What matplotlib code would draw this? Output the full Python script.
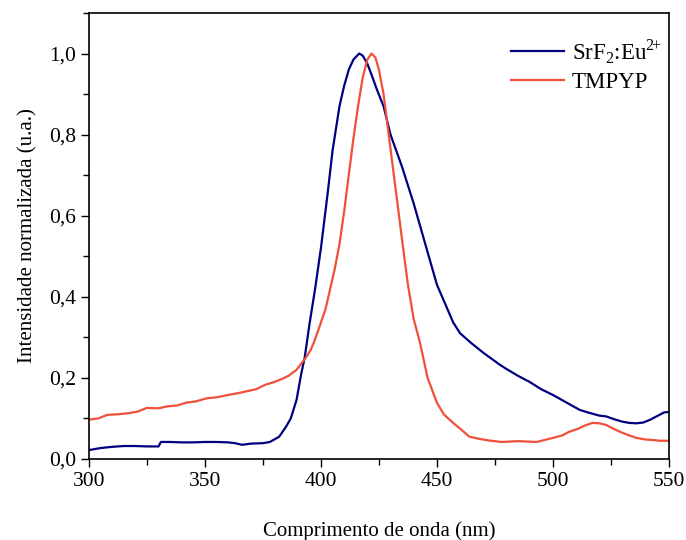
import matplotlib
matplotlib.use("Agg")
import matplotlib.pyplot as plt
from matplotlib.ticker import MultipleLocator, FuncFormatter

# SrF2:Eu2+ emission
srf_x = [300, 305, 310, 315, 320, 325, 330, 331, 335, 340, 345, 350, 355, 360, 363, 366,
         370, 375, 378, 382, 385, 387, 389.5, 391.5, 393, 395, 397.5, 400, 403, 405, 408,
         410, 412, 414, 416.5, 418, 420, 422, 424, 427, 430, 435, 440, 445, 450, 457, 460,
         465, 470, 477, 480, 485, 490, 495, 500, 505, 511.6, 515, 520, 523, 527, 530, 533,
         536, 539, 542, 545, 548, 550]
srf_y = [0.022, 0.027, 0.030, 0.032, 0.032, 0.031, 0.031, 0.042, 0.042, 0.041, 0.041, 0.042,
         0.042, 0.041, 0.039, 0.035, 0.038, 0.039, 0.042, 0.055, 0.08, 0.10, 0.146, 0.21,
         0.25, 0.33, 0.42, 0.52, 0.66, 0.76, 0.87, 0.92, 0.96, 0.985, 1.0, 0.995, 0.975,
         0.945, 0.913, 0.87, 0.80, 0.72, 0.63, 0.53, 0.43, 0.337, 0.31, 0.285, 0.262, 0.233,
         0.222, 0.205, 0.19, 0.172, 0.158, 0.142, 0.121, 0.115, 0.107, 0.105, 0.097, 0.092,
         0.089, 0.088, 0.09, 0.097, 0.106, 0.115, 0.116]

# TMPYP
tmp_x = [300, 304, 308, 312, 317, 321, 325, 330, 334, 338, 342, 346, 351, 355, 360, 364,
         368, 372, 376, 380, 383, 386, 389.5, 391.5, 393.5, 395.5, 397, 399, 402, 404, 406,
         408, 410, 412, 414, 416, 418, 420, 421.8, 423.5, 425, 427, 429, 431, 433, 435,
         437.5, 440, 442.7, 446, 450, 453, 457, 460, 464, 468, 472, 478, 485, 493, 500, 504,
         507, 511, 514, 517, 520, 523, 526, 529, 532, 536, 540, 543, 546, 550]
tmp_y = [0.097, 0.100, 0.109, 0.110, 0.113, 0.117, 0.126, 0.125, 0.130, 0.132, 0.139, 0.142,
         0.150, 0.152, 0.158, 0.162, 0.167, 0.172, 0.183, 0.190, 0.197, 0.205, 0.220, 0.235,
         0.250, 0.268, 0.288, 0.320, 0.370, 0.420, 0.470, 0.530, 0.610, 0.700, 0.790, 0.870,
         0.940, 0.985, 1.0, 0.99, 0.96, 0.90, 0.81, 0.72, 0.63, 0.54, 0.43, 0.345, 0.287,
         0.20, 0.139, 0.11, 0.089, 0.075, 0.055, 0.05, 0.046, 0.042, 0.044, 0.042, 0.052,
         0.058, 0.067, 0.075, 0.083, 0.089, 0.088, 0.084, 0.075, 0.067, 0.06, 0.052, 0.048,
         0.047, 0.045, 0.045]

plt.rcParams['font.family'] = 'Liberation Serif'
plt.rcParams['mathtext.fontset'] = 'custom'
plt.rcParams['mathtext.rm'] = 'Liberation Serif'

fig = plt.figure(figsize=(6.86, 5.4), dpi=100)
ax = fig.add_axes([0.1297, 0.15, 0.8453, 0.826])

ax.plot(srf_x, srf_y, color='#000080', lw=1.6,
        label=r'SrF$_\mathregular{2}$:Eu$^{\mathregular{2}\!\mathregular{+}}$')
ax.plot(tmp_x, tmp_y, color='#f0503a', lw=1.6, label='TMPYP')

ax.set_xlim(300, 550)
ax.set_ylim(0, 1.1)
ax.xaxis.set_major_locator(MultipleLocator(50))
ax.xaxis.set_minor_locator(MultipleLocator(25))
ax.yaxis.set_major_locator(MultipleLocator(0.2))
ax.yaxis.set_minor_locator(MultipleLocator(0.1))
ax.yaxis.set_major_formatter(FuncFormatter(lambda v, p: f"{v:.1f}".replace('.', ',')))
ax.tick_params(which='both', direction='out', top=False, right=False, labelsize=15.5)
ax.tick_params(which='major', length=6, width=1)
ax.tick_params(which='minor', length=4, width=1)
for s in ax.spines.values():
    s.set_linewidth(1.2)

ax.set_xlabel('Comprimento de onda (nm)', fontsize=15, labelpad=22)
ax.set_ylabel('Intensidade normalizada (u.a.)', fontsize=15, labelpad=8)

ax.legend(loc='upper right', bbox_to_anchor=(1.003, 0.966), frameon=False, fontsize=16.5,
          handlelength=2.3, handletextpad=0.35, borderaxespad=0, labelspacing=0.25)

fig.savefig('out.png', dpi=100)
